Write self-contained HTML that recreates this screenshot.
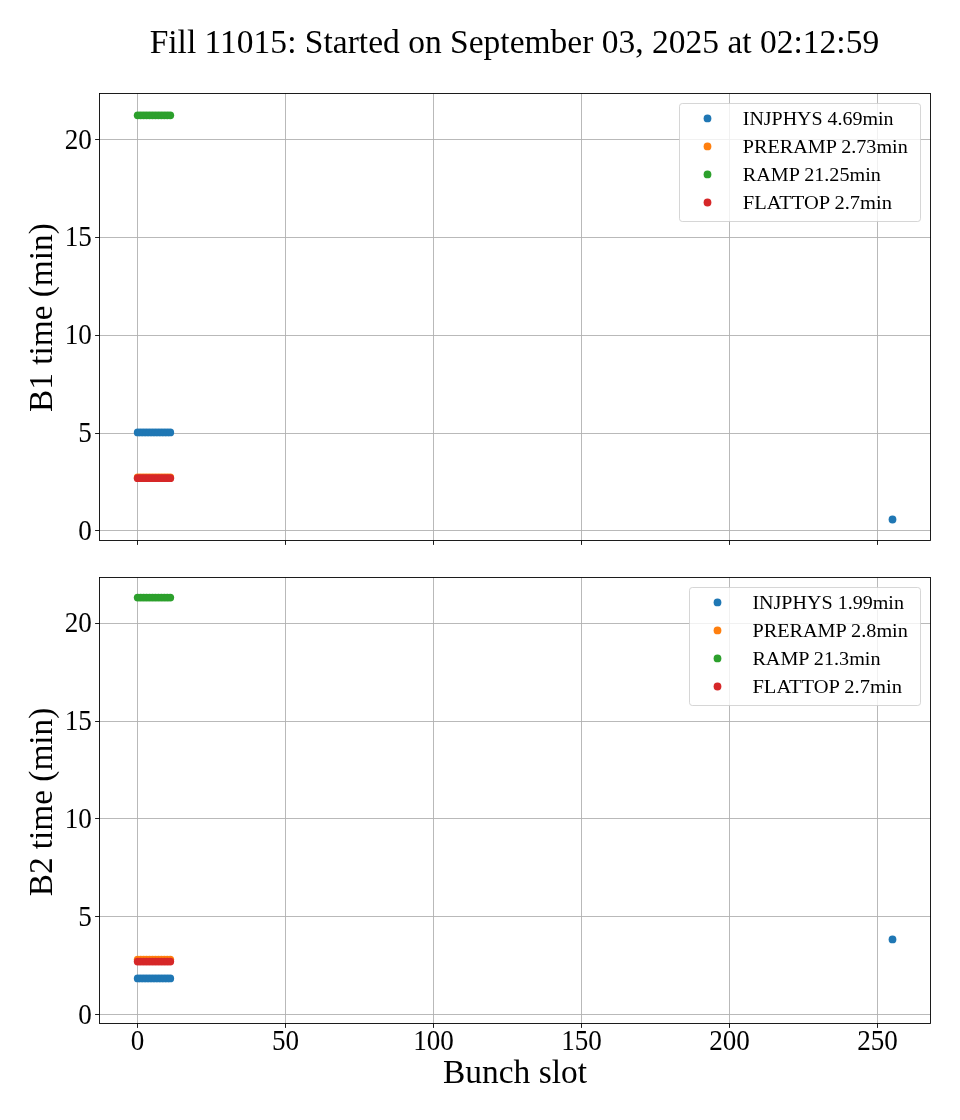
<!DOCTYPE html>
<html><head><meta charset="utf-8"><title>Fill 11015</title>
<style>html,body{margin:0;padding:0;background:#fff;}body{width:960px;height:1120px;overflow:hidden;position:relative;}svg{will-change:transform;display:block;position:absolute;left:0;top:0;}text{font-family:"Liberation Serif",serif;fill:#000;}</style>
</head><body>
<svg width="960" height="1120" viewBox="0 0 960 1120">
<rect x="0" y="0" width="960" height="1120" fill="#fff"/>
<text id="title" font-size="33.30" text-anchor="middle" transform="translate(514.40,53.30) scale(1.0067,1.0000)">Fill 11015: Started on September 03, 2025 at 02:12:59</text>
<g stroke="#b0b0b0" stroke-width="0.89" fill="none">
<line x1="137.50" y1="93.50" x2="137.50" y2="540.50"/>
<line x1="285.50" y1="93.50" x2="285.50" y2="540.50"/>
<line x1="433.50" y1="93.50" x2="433.50" y2="540.50"/>
<line x1="581.50" y1="93.50" x2="581.50" y2="540.50"/>
<line x1="729.50" y1="93.50" x2="729.50" y2="540.50"/>
<line x1="877.50" y1="93.50" x2="877.50" y2="540.50"/>
<line x1="99.50" y1="530.50" x2="930.50" y2="530.50"/>
<line x1="99.50" y1="433.50" x2="930.50" y2="433.50"/>
<line x1="99.50" y1="335.50" x2="930.50" y2="335.50"/>
<line x1="99.50" y1="237.50" x2="930.50" y2="237.50"/>
<line x1="99.50" y1="139.50" x2="930.50" y2="139.50"/>
</g>
<g fill="#1f77b4">
<circle cx="137.70" cy="432.41" r="3.90"/>
<circle cx="140.66" cy="432.41" r="3.90"/>
<circle cx="143.62" cy="432.41" r="3.90"/>
<circle cx="146.58" cy="432.41" r="3.90"/>
<circle cx="149.54" cy="432.41" r="3.90"/>
<circle cx="152.50" cy="432.41" r="3.90"/>
<circle cx="155.46" cy="432.41" r="3.90"/>
<circle cx="158.42" cy="432.41" r="3.90"/>
<circle cx="161.38" cy="432.41" r="3.90"/>
<circle cx="164.34" cy="432.41" r="3.90"/>
<circle cx="167.30" cy="432.41" r="3.90"/>
<circle cx="170.26" cy="432.41" r="3.90"/>
<circle cx="892.50" cy="519.51" r="3.90"/>
</g>
<g fill="#ff7f0e">
<circle cx="137.70" cy="477.38" r="3.90"/>
<circle cx="140.66" cy="477.38" r="3.90"/>
<circle cx="143.62" cy="477.38" r="3.90"/>
<circle cx="146.58" cy="477.38" r="3.90"/>
<circle cx="149.54" cy="477.38" r="3.90"/>
<circle cx="152.50" cy="477.38" r="3.90"/>
<circle cx="155.46" cy="477.38" r="3.90"/>
<circle cx="158.42" cy="477.38" r="3.90"/>
<circle cx="161.38" cy="477.38" r="3.90"/>
<circle cx="164.34" cy="477.38" r="3.90"/>
<circle cx="167.30" cy="477.38" r="3.90"/>
<circle cx="170.26" cy="477.38" r="3.90"/>
</g>
<g fill="#2ca02c">
<circle cx="137.70" cy="115.31" r="3.90"/>
<circle cx="140.66" cy="115.31" r="3.90"/>
<circle cx="143.62" cy="115.31" r="3.90"/>
<circle cx="146.58" cy="115.31" r="3.90"/>
<circle cx="149.54" cy="115.31" r="3.90"/>
<circle cx="152.50" cy="115.31" r="3.90"/>
<circle cx="155.46" cy="115.31" r="3.90"/>
<circle cx="158.42" cy="115.31" r="3.90"/>
<circle cx="161.38" cy="115.31" r="3.90"/>
<circle cx="164.34" cy="115.31" r="3.90"/>
<circle cx="167.30" cy="115.31" r="3.90"/>
<circle cx="170.26" cy="115.31" r="3.90"/>
</g>
<g fill="#d62728">
<circle cx="137.70" cy="478.20" r="3.90"/>
<circle cx="140.66" cy="478.20" r="3.90"/>
<circle cx="143.62" cy="478.20" r="3.90"/>
<circle cx="146.58" cy="478.20" r="3.90"/>
<circle cx="149.54" cy="478.20" r="3.90"/>
<circle cx="152.50" cy="478.20" r="3.90"/>
<circle cx="155.46" cy="478.20" r="3.90"/>
<circle cx="158.42" cy="478.20" r="3.90"/>
<circle cx="161.38" cy="478.20" r="3.90"/>
<circle cx="164.34" cy="478.20" r="3.90"/>
<circle cx="167.30" cy="478.20" r="3.90"/>
<circle cx="170.26" cy="478.20" r="3.90"/>
</g>
<rect x="99.50" y="93.50" width="831.00" height="447.00" fill="none" stroke="#000" stroke-width="0.89"/>
<g stroke="#000" stroke-width="0.89">
<line x1="137.50" y1="540.50" x2="137.50" y2="544.90"/>
<line x1="285.50" y1="540.50" x2="285.50" y2="544.90"/>
<line x1="433.50" y1="540.50" x2="433.50" y2="544.90"/>
<line x1="581.50" y1="540.50" x2="581.50" y2="544.90"/>
<line x1="729.50" y1="540.50" x2="729.50" y2="544.90"/>
<line x1="877.50" y1="540.50" x2="877.50" y2="544.90"/>
<line x1="95.10" y1="530.50" x2="99.50" y2="530.50"/>
<line x1="95.10" y1="433.50" x2="99.50" y2="433.50"/>
<line x1="95.10" y1="335.50" x2="99.50" y2="335.50"/>
<line x1="95.10" y1="237.50" x2="99.50" y2="237.50"/>
<line x1="95.10" y1="139.50" x2="99.50" y2="139.50"/>
</g>
<text id="ay0" font-size="27.80" text-anchor="end" transform="translate(91.90,540.00) scale(0.9750,1.0550)">0</text>
<text id="ay5" font-size="27.80" text-anchor="end" transform="translate(91.90,442.00) scale(0.9750,1.0550)">5</text>
<text id="ay10" font-size="27.80" text-anchor="end" transform="translate(91.90,344.00) scale(0.9750,1.0550)">10</text>
<text id="ay15" font-size="27.80" text-anchor="end" transform="translate(91.90,246.20) scale(0.9750,1.0550)">15</text>
<text id="ay20" font-size="27.80" text-anchor="end" transform="translate(91.90,149.00) scale(0.9750,1.0550)">20</text>
<text id="ayl" font-size="33.30" text-anchor="middle" transform="translate(52.00,317.60) rotate(-90)">B1 time (min)</text>
<rect x="679.50" y="103.50" width="241.00" height="118.00" rx="2.8" ry="2.8" fill="#fff" fill-opacity="0.8" stroke="#ccc" stroke-opacity="0.8" stroke-width="1.0"/>
<circle cx="707.50" cy="118.40" r="3.90" fill="#1f77b4"/>
<text id="al0" font-size="19.44" text-anchor="start" transform="translate(742.80,125.00) scale(1.0270,1.0000)">INJPHYS 4.69min</text>
<circle cx="707.50" cy="146.43" r="3.90" fill="#ff7f0e"/>
<text id="al1" font-size="19.44" text-anchor="start" transform="translate(742.80,153.03) scale(1.0370,1.0000)">PRERAMP 2.73min</text>
<circle cx="707.50" cy="174.46" r="3.90" fill="#2ca02c"/>
<text id="al2" font-size="19.44" text-anchor="start" transform="translate(742.80,181.06) scale(1.0360,1.0000)">RAMP 21.25min</text>
<circle cx="707.50" cy="202.49" r="3.90" fill="#d62728"/>
<text id="al3" font-size="19.44" text-anchor="start" transform="translate(742.80,209.09) scale(1.0540,1.0000)">FLATTOP 2.7min</text>
<g stroke="#b0b0b0" stroke-width="0.89" fill="none">
<line x1="137.50" y1="577.50" x2="137.50" y2="1023.50"/>
<line x1="285.50" y1="577.50" x2="285.50" y2="1023.50"/>
<line x1="433.50" y1="577.50" x2="433.50" y2="1023.50"/>
<line x1="581.50" y1="577.50" x2="581.50" y2="1023.50"/>
<line x1="729.50" y1="577.50" x2="729.50" y2="1023.50"/>
<line x1="877.50" y1="577.50" x2="877.50" y2="1023.50"/>
<line x1="99.50" y1="1014.50" x2="930.50" y2="1014.50"/>
<line x1="99.50" y1="916.50" x2="930.50" y2="916.50"/>
<line x1="99.50" y1="818.50" x2="930.50" y2="818.50"/>
<line x1="99.50" y1="721.50" x2="930.50" y2="721.50"/>
<line x1="99.50" y1="623.50" x2="930.50" y2="623.50"/>
</g>
<g fill="#1f77b4">
<circle cx="137.70" cy="978.38" r="3.90"/>
<circle cx="140.66" cy="978.38" r="3.90"/>
<circle cx="143.62" cy="978.38" r="3.90"/>
<circle cx="146.58" cy="978.38" r="3.90"/>
<circle cx="149.54" cy="978.38" r="3.90"/>
<circle cx="152.50" cy="978.38" r="3.90"/>
<circle cx="155.46" cy="978.38" r="3.90"/>
<circle cx="158.42" cy="978.38" r="3.90"/>
<circle cx="161.38" cy="978.38" r="3.90"/>
<circle cx="164.34" cy="978.38" r="3.90"/>
<circle cx="167.30" cy="978.38" r="3.90"/>
<circle cx="170.26" cy="978.38" r="3.90"/>
<circle cx="892.50" cy="939.38" r="3.90"/>
</g>
<g fill="#ff7f0e">
<circle cx="137.70" cy="959.61" r="3.90"/>
<circle cx="140.66" cy="959.61" r="3.90"/>
<circle cx="143.62" cy="959.61" r="3.90"/>
<circle cx="146.58" cy="959.61" r="3.90"/>
<circle cx="149.54" cy="959.61" r="3.90"/>
<circle cx="152.50" cy="959.61" r="3.90"/>
<circle cx="155.46" cy="959.61" r="3.90"/>
<circle cx="158.42" cy="959.61" r="3.90"/>
<circle cx="161.38" cy="959.61" r="3.90"/>
<circle cx="164.34" cy="959.61" r="3.90"/>
<circle cx="167.30" cy="959.61" r="3.90"/>
<circle cx="170.26" cy="959.61" r="3.90"/>
</g>
<g fill="#2ca02c">
<circle cx="137.70" cy="597.54" r="3.90"/>
<circle cx="140.66" cy="597.54" r="3.90"/>
<circle cx="143.62" cy="597.54" r="3.90"/>
<circle cx="146.58" cy="597.54" r="3.90"/>
<circle cx="149.54" cy="597.54" r="3.90"/>
<circle cx="152.50" cy="597.54" r="3.90"/>
<circle cx="155.46" cy="597.54" r="3.90"/>
<circle cx="158.42" cy="597.54" r="3.90"/>
<circle cx="161.38" cy="597.54" r="3.90"/>
<circle cx="164.34" cy="597.54" r="3.90"/>
<circle cx="167.30" cy="597.54" r="3.90"/>
<circle cx="170.26" cy="597.54" r="3.90"/>
</g>
<g fill="#d62728">
<circle cx="137.70" cy="961.57" r="3.90"/>
<circle cx="140.66" cy="961.57" r="3.90"/>
<circle cx="143.62" cy="961.57" r="3.90"/>
<circle cx="146.58" cy="961.57" r="3.90"/>
<circle cx="149.54" cy="961.57" r="3.90"/>
<circle cx="152.50" cy="961.57" r="3.90"/>
<circle cx="155.46" cy="961.57" r="3.90"/>
<circle cx="158.42" cy="961.57" r="3.90"/>
<circle cx="161.38" cy="961.57" r="3.90"/>
<circle cx="164.34" cy="961.57" r="3.90"/>
<circle cx="167.30" cy="961.57" r="3.90"/>
<circle cx="170.26" cy="961.57" r="3.90"/>
</g>
<rect x="99.50" y="577.50" width="831.00" height="446.00" fill="none" stroke="#000" stroke-width="0.89"/>
<g stroke="#000" stroke-width="0.89">
<line x1="137.50" y1="1023.50" x2="137.50" y2="1027.90"/>
<line x1="285.50" y1="1023.50" x2="285.50" y2="1027.90"/>
<line x1="433.50" y1="1023.50" x2="433.50" y2="1027.90"/>
<line x1="581.50" y1="1023.50" x2="581.50" y2="1027.90"/>
<line x1="729.50" y1="1023.50" x2="729.50" y2="1027.90"/>
<line x1="877.50" y1="1023.50" x2="877.50" y2="1027.90"/>
<line x1="95.10" y1="1014.50" x2="99.50" y2="1014.50"/>
<line x1="95.10" y1="916.50" x2="99.50" y2="916.50"/>
<line x1="95.10" y1="818.50" x2="99.50" y2="818.50"/>
<line x1="95.10" y1="721.50" x2="99.50" y2="721.50"/>
<line x1="95.10" y1="623.50" x2="99.50" y2="623.50"/>
</g>
<text id="by0" font-size="27.80" text-anchor="end" transform="translate(91.90,1023.80) scale(0.9750,1.0550)">0</text>
<text id="by5" font-size="27.80" text-anchor="end" transform="translate(91.90,926.10) scale(0.9750,1.0550)">5</text>
<text id="by10" font-size="27.80" text-anchor="end" transform="translate(91.90,828.00) scale(0.9750,1.0550)">10</text>
<text id="by15" font-size="27.80" text-anchor="end" transform="translate(91.90,729.70) scale(0.9750,1.0550)">15</text>
<text id="by20" font-size="27.80" text-anchor="end" transform="translate(91.90,631.90) scale(0.9750,1.0550)">20</text>
<text id="bx0" font-size="27.80" text-anchor="middle" transform="translate(137.50,1050.00) scale(0.9750,1.0550)">0</text>
<text id="bx50" font-size="27.80" text-anchor="middle" transform="translate(285.50,1050.00) scale(0.9750,1.0550)">50</text>
<text id="bx100" font-size="27.80" text-anchor="middle" transform="translate(433.50,1050.00) scale(0.9750,1.0550)">100</text>
<text id="bx150" font-size="27.80" text-anchor="middle" transform="translate(581.50,1050.00) scale(0.9750,1.0550)">150</text>
<text id="bx200" font-size="27.80" text-anchor="middle" transform="translate(729.50,1050.00) scale(0.9750,1.0550)">200</text>
<text id="bx250" font-size="27.80" text-anchor="middle" transform="translate(877.50,1050.00) scale(0.9750,1.0550)">250</text>
<text id="byl" font-size="33.30" text-anchor="middle" transform="translate(52.00,802.00) rotate(-90)">B2 time (min)</text>
<rect x="689.50" y="587.50" width="231.00" height="118.00" rx="2.8" ry="2.8" fill="#fff" fill-opacity="0.8" stroke="#ccc" stroke-opacity="0.8" stroke-width="1.0"/>
<circle cx="717.50" cy="602.40" r="3.90" fill="#1f77b4"/>
<text id="bl0" font-size="19.44" text-anchor="start" transform="translate(752.40,609.00) scale(1.0320,1.0000)">INJPHYS 1.99min</text>
<circle cx="717.50" cy="630.43" r="3.90" fill="#ff7f0e"/>
<text id="bl1" font-size="19.44" text-anchor="start" transform="translate(752.40,637.03) scale(1.0410,1.0000)">PRERAMP 2.8min</text>
<circle cx="717.50" cy="658.46" r="3.90" fill="#2ca02c"/>
<text id="bl2" font-size="19.44" text-anchor="start" transform="translate(752.40,665.06) scale(1.0380,1.0000)">RAMP 21.3min</text>
<circle cx="717.50" cy="686.49" r="3.90" fill="#d62728"/>
<text id="bl3" font-size="19.44" text-anchor="start" transform="translate(752.40,693.09) scale(1.0570,1.0000)">FLATTOP 2.7min</text>
<text id="xl" font-size="33.30" text-anchor="middle" transform="translate(515.00,1082.90) scale(1.0040,0.9850)">Bunch slot</text>
</svg></body></html>
